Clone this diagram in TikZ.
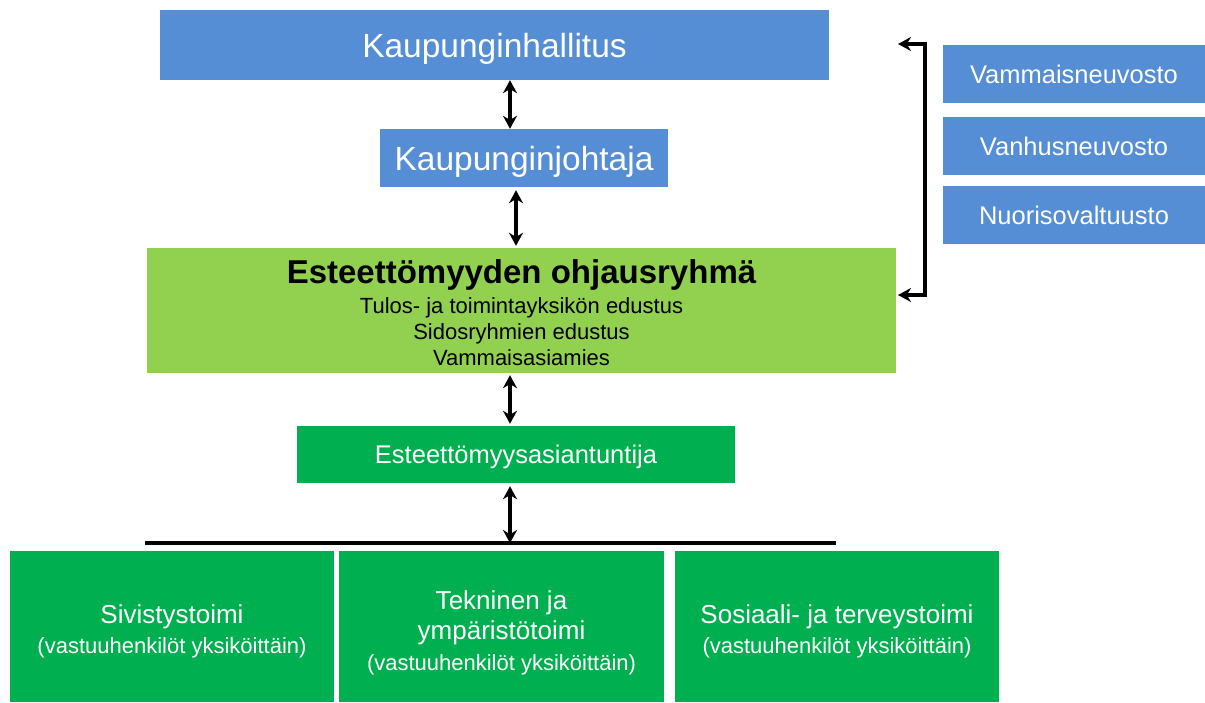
\documentclass[tikz,border=0pt]{standalone}
\usepackage{fontspec}
\setmainfont{Liberation Sans}
\usetikzlibrary{arrows.meta}
\definecolor{cblue}{HTML}{558ED5}
\definecolor{lgreen}{HTML}{92D050}
\definecolor{dgreen}{HTML}{00B050}
\tikzset{
  box/.style={inner sep=0pt, align=center, text=white},
  capc/.style={text height=#1, text depth=0pt},
  dbl/.style={line width=3.5pt, {Stealth[length=13pt,width=14pt]}-{Stealth[length=13pt,width=14pt]}},
}
\begin{document}
\begin{tikzpicture}[x=1pt,y=-1pt]
\useasboundingbox (0,0) rectangle (1205,702);
\fill[white] (0,0) rectangle (1205,702);
% top
\node[box, capc=24pt, fill=cblue, minimum width=669pt, minimum height=70pt, font=\fontsize{33.5}{38}\selectfont] (kh) at (494.5,45) {Kaupunginhallitus};
\node[box, capc=24pt, fill=cblue, minimum width=288pt, minimum height=58pt, font=\fontsize{33.5}{38}\selectfont] (kj) at (524,158) {Kaupunginjohtaja};
\node[box, fill=lgreen, text=black, minimum width=749pt, minimum height=125pt] (ohj) at (521.5,310.5) {};
\node[text=black, inner sep=0pt, font=\bfseries\fontsize{33}{36}\selectfont] (ohjt) at (521.5,275) {Esteettömyyden ohjausryhmä};
\node[text=black, inner sep=0pt, align=center, font=\fontsize{22}{26}\selectfont] (ohjl) at (521.5,332) {Tulos- ja toimintayksikön edustus\\Sidosryhmien edustus\\Vammaisasiamies};
\node[box, capc=18.3pt, fill=dgreen, minimum width=438pt, minimum height=57pt, font=\fontsize{25.5}{30}\selectfont] (ea) at (516,454.5) {Esteettömyysasiantuntija};
% right boxes
\node[box, fill=cblue, minimum width=262pt, minimum height=58pt, font=\fontsize{25.5}{30}\selectfont] (vn) at (1074,74) {Vammaisneuvosto};
\node[box, fill=cblue, minimum width=262pt, minimum height=58pt, font=\fontsize{25.5}{30}\selectfont] (vh) at (1074,146) {Vanhusneuvosto};
\node[box, fill=cblue, minimum width=262pt, minimum height=58pt, font=\fontsize{25.5}{30}\selectfont] (nv) at (1074,215) {Nuorisovaltuusto};
% bottom boxes
\node[box, fill=dgreen, minimum width=324pt, minimum height=151pt] (b1) at (172,626.5) {};
\node[box, fill=dgreen, minimum width=325pt, minimum height=151pt] (b2) at (501.5,626.5) {};
\node[box, fill=dgreen, minimum width=324pt, minimum height=151pt] (b3) at (837,626.5) {};
\node[box, font=\fontsize{26}{30.5}\selectfont] (t1) at ([yshift=-5pt]b1.center) {Sivistystoimi\\{\fontsize{22}{27}\selectfont(vastuuhenkilöt yksiköittäin)}};
\node[box, font=\fontsize{26}{30.5}\selectfont] (t2) at ([yshift=-6pt]b2.center) {Tekninen ja\\ympäristötoimi\\{\fontsize{22}{27}\selectfont(vastuuhenkilöt yksiköittäin)}};
\node[box, font=\fontsize{26}{30.5}\selectfont] (t3) at ([yshift=-5pt]b3.center) {Sosiaali- ja terveystoimi\\{\fontsize{22}{27}\selectfont(vastuuhenkilöt yksiköittäin)}};
% horizontal bar
\coordinate (barl) at (145,543);
\coordinate (barr) at (836,543);
\draw[line width=4pt] (barl) -- (barr);
% vertical arrows
\coordinate (x1) at (510,0);
\coordinate (x2) at (516,0);
\draw[dbl] (kh.south -| x1) -- (kj.north -| x1);
\draw[dbl] ([yshift=-3pt]kj.south -| x2) -- ([yshift=2pt]ohj.north -| x2);
\draw[dbl] ([yshift=-2pt]ohj.south -| x1) -- ([yshift=2pt]ea.north -| x1);
\draw[dbl] ([yshift=-3pt]ea.south -| x1) -- (barl -| x1);
% bracket
\coordinate (bt) at (898,44);
\coordinate (bb) at (898,295);
\draw[dbl] (bt) -- (925,44) -- (925,295) -- (bb);
\end{tikzpicture}
\end{document}
